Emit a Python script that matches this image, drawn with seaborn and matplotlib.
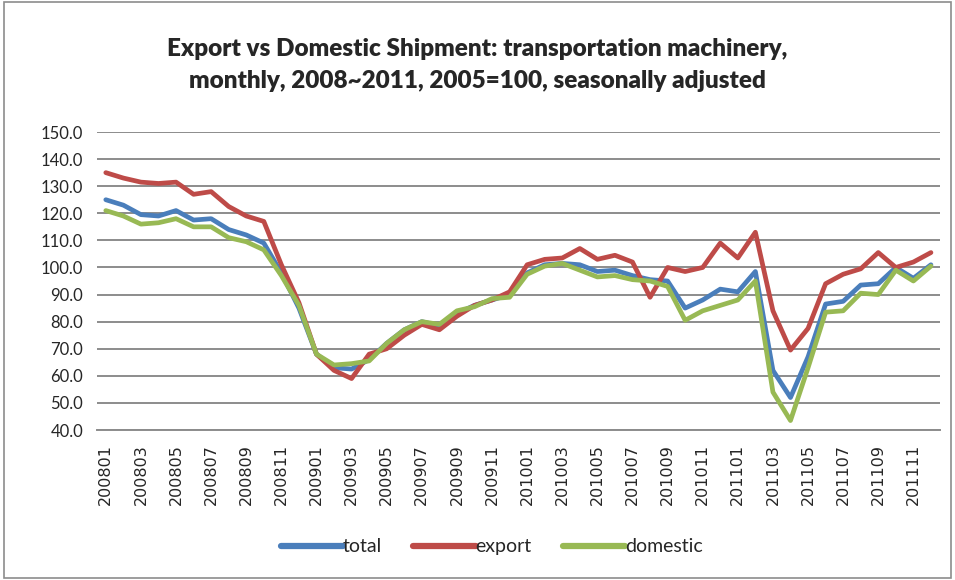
import numpy as np
import pandas as pd
import matplotlib
matplotlib.use("Agg")
import matplotlib.pyplot as plt
import seaborn as sns
from matplotlib.patches import Rectangle

# months 200801 .. 201112
months = [f"{y}{m:02d}" for y in (2008, 2009, 2010, 2011) for m in range(1, 13)]

total = [125, 123, 119.5, 119, 121, 117.5, 118, 114, 112, 109, 98, 85,
         68, 63, 62.5, 66, 72, 77, 80, 78.5, 83, 86, 88, 90,
         98, 101, 101.5, 101, 98.5, 99, 97, 95.5, 95, 85, 88, 92,
         91, 98.5, 62, 52, 67, 86.5, 87.5, 93.5, 94, 100, 96, 101]
export = [135, 133, 131.5, 131, 131.5, 127, 128, 122.5, 119, 117, 101, 87,
          68, 62, 59, 68, 70, 75, 79, 77, 82, 86, 88, 91,
          101, 103, 103.5, 107, 103, 104.5, 102, 89, 100, 98.5, 100, 109,
          103.5, 113, 84, 69.5, 77.5, 94, 97.5, 99.5, 105.5, 100, 102, 105.5]
domestic = [121, 119, 116, 116.5, 118, 115, 115, 111, 109.5, 106.5, 97, 86,
            68, 64, 64.5, 65.5, 72, 77, 80, 79, 84, 85.5, 88.5, 89,
            97.5, 100.5, 101.5, 99, 96.5, 97, 95.5, 95, 93, 80.5, 84, 86,
            88, 95, 54, 43.5, 63, 83.5, 84, 90.5, 90, 99, 95, 100.5]

series_names = ["total", "export", "domestic"]
colors = ["#4A7EBB", "#BE4B48", "#98B954"]

df = pd.DataFrame({"idx": np.arange(len(months)), "total": total,
                   "export": export, "domestic": domestic})
long = df.melt(id_vars="idx", var_name="series", value_name="value")

sns.set_style("white")
plt.rcParams["font.family"] = ["Lato", "DejaVu Sans"]

fig = plt.figure(figsize=(9.55, 5.8), dpi=100)
ax = fig.add_axes([0.1016, 0.2586, 0.8824, 0.5138])

sns.lineplot(data=long, x="idx", y="value", hue="series", hue_order=series_names,
             palette=colors, linewidth=3.4, ax=ax, legend=False)

ax.set_xlim(-0.5, len(months) - 0.5)
ax.set_ylim(40, 150)
ax.set_yticks(np.arange(40, 151, 10))
ax.set_yticklabels([f"{v:.1f}" for v in np.arange(40, 151, 10)], fontsize=12)
ax.set_xticks(range(0, len(months), 2))
ax.set_xticklabels(months[::2], rotation=90, fontsize=11.5,
                   family="DejaVu Sans")
ax.grid(axis="y", color="#8c8c8c", linewidth=1.4)
ax.set_axisbelow(True)
ax.set_xlabel("")
ax.set_ylabel("")
for s in ["top", "right", "left"]:
    ax.spines[s].set_visible(False)
ax.spines["bottom"].set_color("#8c8c8c")
ax.spines["bottom"].set_linewidth(1.4)
ax.tick_params(axis="y", length=6, color="#8c8c8c", width=1.2, pad=4)
ax.tick_params(axis="x", length=0, pad=10)

fig.suptitle("Export vs Domestic Shipment: transportation machinery,\n"
             "monthly, 2008~2011, 2005=100, seasonally adjusted",
             y=0.935, fontsize=17.5, fontweight="heavy", linespacing=1.6)

handles = [plt.Line2D([], [], color=c, linewidth=4.5) for c in colors]
fig.legend(handles, series_names, loc="center", bbox_to_anchor=(0.515, 0.057),
           ncol=3, frameon=False, fontsize=14, handlelength=3.2,
           handletextpad=0.0, columnspacing=1.6)

fig.patches.append(Rectangle((0.004, 0.004), 0.992, 0.992, transform=fig.transFigure,
                             fill=False, edgecolor="#8c8c8c", linewidth=1.2))

fig.savefig("out.png", dpi=100)
